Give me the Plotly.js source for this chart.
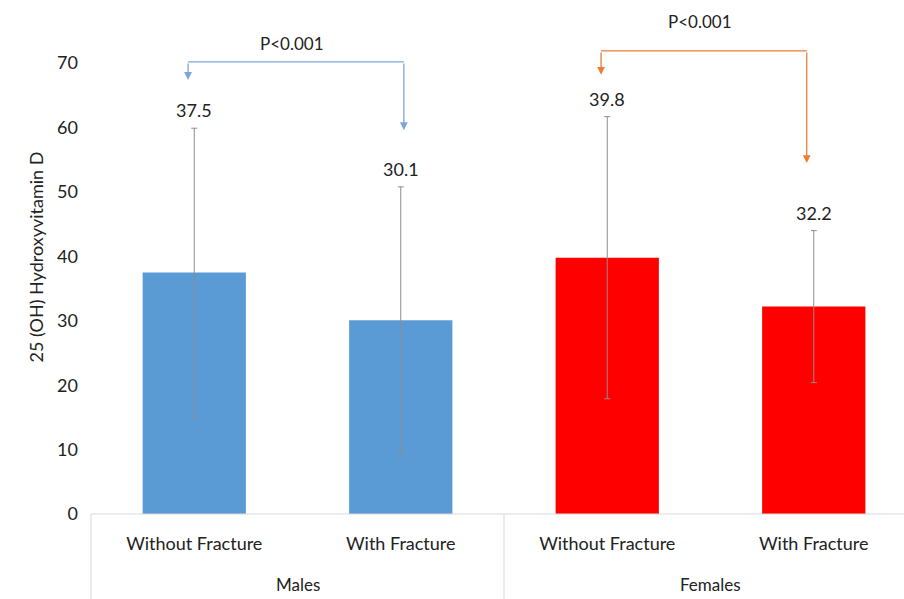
<!DOCTYPE html>
<html>
<head>
<meta charset="utf-8">
<script src="https://cdn.plot.ly/plotly-3.0.1.min.js"></script>
<style>html,body{margin:0;padding:0;background:#fff;}#chart{width:904px;height:599px;}</style>
</head>
<body>
<div id="chart"></div>
<script>
// ---- data ----
const subCategories = ["Without Fracture", "With Fracture", "Without Fracture", "With Fracture"];
const groups = ["Males", "Males", "Females", "Females"];
const groupNames = ["Males", "Females"];
const means = [37.5, 30.1, 39.8, 32.2];
const sds = [22.4, 20.7, 21.9, 11.8];
const barColors = ["#5B9BD5", "#5B9BD5", "#FF0000", "#FF0000"];
const yTicks = [0, 10, 20, 30, 40, 50, 60, 70];
const pLabels = ["P<0.001", "P<0.001"];
// bracket levels (data units)
const bracketTop = [70.2, 71.9];
const bracketLeftTip = [67.4, 68.2];
const bracketRightTip = [59.6, 54.5];
const pLabelY = [73.1, 76.4];

const xs = subCategories.map((_, i) => i);
const xRange = [-0.5, 3.437];
const toPaper = v => (v - xRange[0]) / (xRange[1] - xRange[0]);

const font = "Lato, 'Open Sans', sans-serif";

const trace = {
  type: "bar",
  x: xs,
  y: means,
  width: 0.5,
  marker: {color: barColors},
  error_y: {type: "data", array: sds, visible: true, color: "#8c8c8c", thickness: 1, width: 3},
  hoverinfo: "none"
};

const annotations = [];
const shapes = [];

// value labels above error bars
means.forEach((m, i) => {
  annotations.push({x: xs[i], y: m + sds[i], xref: "x", yref: "y", text: String(m.toFixed(1)),
    showarrow: false, yanchor: "bottom", yshift: 5, font: {family: font, size: 18, color: "#222"}});
});

// group labels
groupNames.forEach((g, gi) => {
  const idx = xs.filter((_, i) => groups[i] === g);
  const c = (Math.min(...idx) + Math.max(...idx)) / 2;
  annotations.push({x: c, xref: "x", y: -0.138, yref: "paper", text: g, showarrow: false,
    yanchor: "middle", font: {family: font, size: 17, color: "#222"}});
});

// dividers below axis (group edges)
const edges = [-0.5, 1.5, 3.5];
edges.forEach(e => {
  const px = toPaper(e);
  if (px <= 1) shapes.push({type: "line", xref: "paper", yref: "paper", x0: px, x1: px, y0: 0, y1: -0.2,
    line: {color: "#d9d9d9", width: 1}});
});
// axis base line
shapes.push({type: "line", xref: "paper", yref: "paper", x0: 0, x1: 1, y0: 0, y1: 0, line: {color: "#d9d9d9", width: 1}});

// significance brackets
const bracketColors = ["#7BA7D7", "#ED7D31"];
const bracketPairs = [[0, 1], [2, 3]];
const offsets = [[-0.03, 0.015], [-0.03, -0.034]];
bracketPairs.forEach((pair, k) => {
  const xl = xs[pair[0]] + offsets[k][0];
  const xr = xs[pair[1]] + offsets[k][1];
  shapes.push({type: "line", xref: "x", yref: "y", x0: xl, x1: xr, y0: bracketTop[k], y1: bracketTop[k],
    line: {color: bracketColors[k], width: 1.3}});
  annotations.push({x: xl, y: bracketLeftTip[k], xref: "x", yref: "y", ax: xl, ay: bracketTop[k], axref: "x", ayref: "y",
    showarrow: true, arrowhead: 2, arrowsize: 1.2, arrowwidth: 1.3, arrowcolor: bracketColors[k], text: ""});
  annotations.push({x: xr, y: bracketRightTip[k], xref: "x", yref: "y", ax: xr, ay: bracketTop[k], axref: "x", ayref: "y",
    showarrow: true, arrowhead: 2, arrowsize: 1.2, arrowwidth: 1.3, arrowcolor: bracketColors[k], text: ""});
  annotations.push({x: (xl + xr) / 2 - 0.02, y: pLabelY[k], xref: "x", yref: "y", text: pLabels[k], showarrow: false,
    font: {family: font, size: 17, color: "#222"}});
});

const layout = {
  width: 904, height: 599,
  margin: {l: 91, r: 0, t: 0, b: 85},
  paper_bgcolor: "#fff", plot_bgcolor: "#fff",
  showlegend: false,
  xaxis: {
    range: xRange, tickvals: xs, ticktext: subCategories, showgrid: false, zeroline: false,
    showline: false, ticks: "", tickfont: {family: font, size: 18, color: "#222"}, ticklabelstandoff: 17
  },
  yaxis: {
    range: [0, 79.81], tickvals: yTicks, showgrid: false, zeroline: false, showline: false, ticks: "",
    tickfont: {family: font, size: 18, color: "#222"}, ticklabelstandoff: 12,
    title: {text: "25 (OH) Hydroxyvitamin D", font: {family: font, size: 18, color: "#222"}, standoff: 8}
  },
  annotations: annotations,
  shapes: shapes
};

Plotly.newPlot("chart", [trace], layout, {displayModeBar: false, staticPlot: true});
</script>
</body>
</html>
